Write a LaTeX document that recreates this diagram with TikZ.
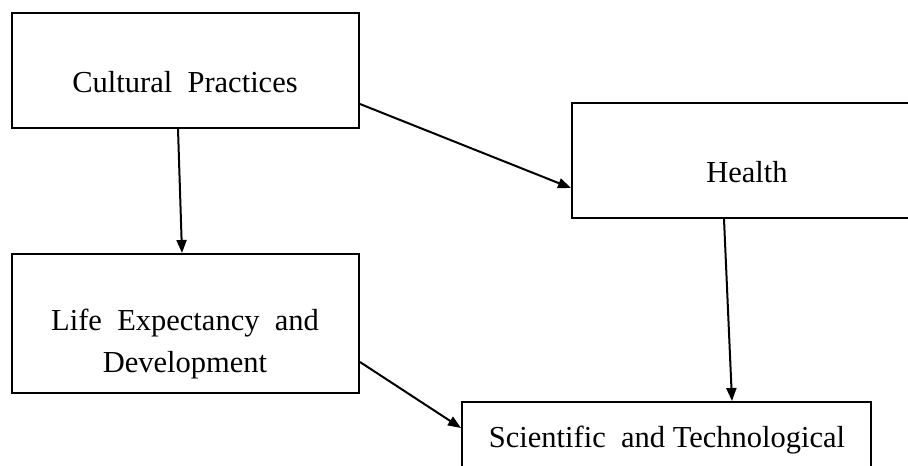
\documentclass[tikz,border=0pt]{standalone}
\usepackage{fontspec}
\setmainfont{Liberation Serif}
\usetikzlibrary{calc,arrows.meta}

\begin{document}
\begin{tikzpicture}[x=1pt,y=-1pt,
    box/.style={draw,line width=2pt,inner sep=0pt},
    lbl/.style={anchor=base,inner sep=0pt,font=\fontsize{30.5}{42}\selectfont},
    arr/.style={-{Triangle[length=13pt,width=10pt]},line width=2pt}]
      \useasboundingbox (0,0) rectangle (908,466);
      \clip (0,0) rectangle (908,466);
      \node[box,minimum width=347pt,minimum height=115pt] (cult) at (185.5,70.5) {};
      \node[box,minimum width=350pt,minimum height=115pt] (health) at (747,160.5) {};
      \node[box,minimum width=347pt,minimum height=139pt] (life) at (185.5,323.5) {};
      \node[box,minimum width=409pt,minimum height=120pt] (sci) at (666.5,462) {};
      \node[lbl] (culttxt) at (185,92) {Cultural\ \ Practices};
      \node[lbl] (healthtxt) at (747,182) {Health};
      \node[lbl,anchor=center,align=center] (lifetxt) at (185,344) {Life\ \ Expectancy\ \ and\\Development};
      \node[lbl] (scitxt) at (667,447) {Scientific\ \ and\ Technological};
      \draw[arr] ([xshift=-7.5pt]cult.south) -- ([xshift=-3.5pt]life.north);
      \draw[arr] ([yshift=-33.5pt]cult.east) -- ([yshift=-27.5pt]health.west);
      \draw[arr] ([xshift=-23pt]health.south) -- ([xshift=65.5pt]sci.north);
      \draw[arr] ([yshift=-38.5pt]life.east) -- ([yshift=34pt]sci.west);
\end{tikzpicture}
\end{document}
